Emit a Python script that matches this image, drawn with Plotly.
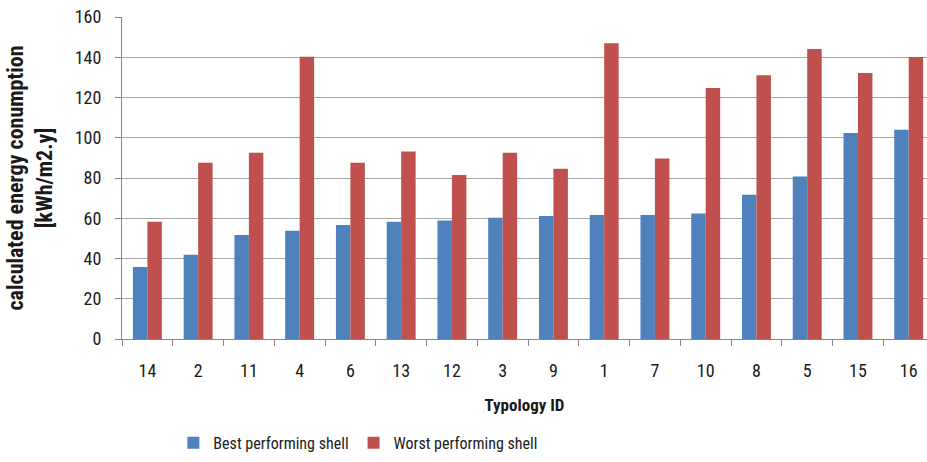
import plotly.graph_objects as go

categories = ["14", "2", "11", "4", "6", "13", "12", "3", "9", "1", "7", "10", "8", "5", "15", "16"]
best = [35.8, 41.9, 51.7, 53.8, 56.6, 58.3, 58.9, 60.3, 61.1, 61.6, 61.6, 62.3, 71.7, 80.8, 102.4, 104.0]
worst = [58.3, 87.6, 92.6, 140.3, 87.6, 93.2, 81.5, 92.6, 84.6, 146.9, 89.7, 124.7, 131.0, 144.1, 132.2, 140.1]
y_ticks = [0, 20, 40, 60, 80, 100, 120, 140, 160]

FONT = "Roboto Condensed, Liberation Sans, sans-serif"

fig = go.Figure()
fig.add_trace(go.Bar(name="Best performing shell", x=categories, y=best,
                     marker=dict(color="#4F81BD", line=dict(width=0))))
fig.add_trace(go.Bar(name="Worst performing shell", x=categories, y=worst,
                     marker=dict(color="#C0504D", line=dict(width=0))))

fig.update_layout(
    width=927, height=462,
    margin=dict(l=122, r=0, t=17, b=123),
    paper_bgcolor="white", plot_bgcolor="white",
    barmode="group", bargap=0.43, bargroupgap=0,
    font=dict(family=FONT, size=18, color="#1a1a1a"),
    showlegend=True,
    legend=dict(orientation="h", x=0.293, y=-0.27, xanchor="center", yanchor="top",
                font=dict(size=16, family=FONT), itemwidth=30,
                traceorder="normal"),
    xaxis=dict(
        type="category", range=[-0.5, 15.36], automargin=False,
        showline=True, linecolor="#868686", linewidth=1,
        ticks="outside", tickson="boundaries", ticklen=6, tickcolor="#868686",
        showgrid=False, ticklabelstandoff=15,
        tickfont=dict(size=18, family=FONT),
        title=dict(text="<b>Typology ID</b>", font=dict(size=17, family=FONT), standoff=19),
    ),
    yaxis=dict(
        range=[0, 160], tickvals=y_ticks, automargin=False,
        showline=True, linecolor="#868686", linewidth=1,
        ticks="outside", ticklen=6, tickcolor="#868686",
        showgrid=True, gridcolor="#A6A6A6", gridwidth=1,
        zeroline=False, ticklabelstandoff=10,
        tickfont=dict(size=18, family=FONT),
        title=dict(text="<b>calculated energy conumption<br>[kWh/m2.y]</b>",
                   font=dict(size=22, family=FONT), standoff=16),
    ),
)

# remove the default 8px page margin so the figure fills the window exactly
fig.write_html("out.html", config={"displayModeBar": False},
               post_script="document.body.style.margin='0';")
